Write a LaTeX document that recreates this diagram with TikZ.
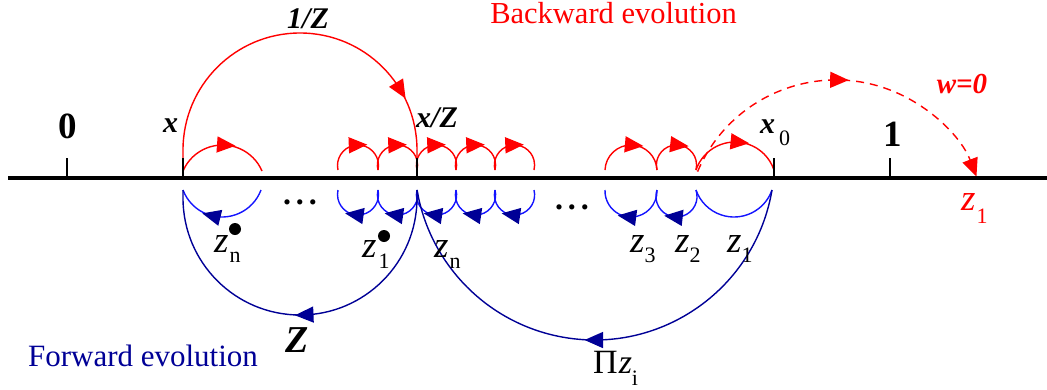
\documentclass[tikz,border=0pt]{standalone}
\usepackage{fontspec}
\setmainfont{Liberation Serif}
\usetikzlibrary{arrows.meta,decorations.markings}
\definecolor{navy}{RGB}{0,0,150}
\definecolor{lblue}{RGB}{20,20,255}
\definecolor{rred}{RGB}{255,0,0}
\newcommand\fsz[1]{\fontsize{#1}{#1}\selectfont}
\newcommand\zsub[4]{{\fsz{37}\itshape #1}\hspace{#4pt}\raisebox{-#3pt}{\fsz{22}#2}}
\tikzset{
  tipR/.style={postaction={decorate,decoration={markings,mark=at position #1 with {\fill[rred] (10pt,0pt) -- (-8.5pt,8.2pt) -- (-8.5pt,-8.2pt) -- cycle;}}}},
  tipB/.style={postaction={decorate,decoration={markings,mark=at position #1 with {\fill[navy] (10pt,0pt) -- (-8.5pt,8.2pt) -- (-8.5pt,-8.2pt) -- cycle;}}}},
  redline/.style={draw=rred, line width=1.4pt},
  blueline/.style={draw=lblue, line width=1.4pt},
  navyline/.style={draw=navy, line width=1.4pt},
  tick/.style={draw=black, line width=1.3pt},
  lbl/.style={inner sep=0pt, anchor=base},
  lblw/.style={inner sep=0pt, anchor=base west},
  bdot/.style={circle, fill=black, inner sep=0pt, minimum size=12pt},
}
% upper arc, left to right: x1, x2, Y, h, options
\newcommand\uarc[5]{%
  \pgfmathsetmacro\myc{(#2-#1)/2}%
  \pgfmathsetmacro\myr{(\myc*\myc+#4*#4)/(2*#4)}%
  \pgfmathsetmacro\mya{atan2(\myr-#4,\myc)}%
  \draw[#5] (#1,#3) arc[start angle={180-\mya}, end angle={\mya}, radius=\myr pt];}
% lower arc, right to left: x1, x2, Y, h, options
\newcommand\larc[5]{%
  \pgfmathsetmacro\myc{(#2-#1)/2}%
  \pgfmathsetmacro\myr{(\myc*\myc+#4*#4)/(2*#4)}%
  \pgfmathsetmacro\mya{atan2(\myr-#4,\myc)}%
  \draw[#5] (#2,#3) arc[start angle={-\mya}, end angle={-180+\mya}, radius=\myr pt];}
\begin{document}
\begin{tikzpicture}[x=1pt,y=1pt]
\useasboundingbox (0,-211) rectangle (1047,178);
% named points on the axis
\coordinate (p0) at (67,0);
\coordinate (px) at (183,0);
\coordinate (pxz) at (417,0);
\coordinate (px0) at (774,0);
\coordinate (p1) at (890,0);
% big red arc 1/Z
\draw[redline, tipR=0.785] (px) -- ++(0,28) arc[start angle=180, end angle=0, radius=117pt] -- (pxz);
% small red arcs
\uarc{183}{262}{7}{26}{redline, tipR=0.53}
\foreach \a/\b in {338/378,378/417,417/456,456/495,495/534}{\uarc{\a}{\b}{8}{25}{redline, tipR=0.49}}
\uarc{605}{657}{8}{25}{redline, tipR=0.53}
\uarc{657}{696}{8}{25}{redline, tipR=0.53}
\uarc{696}{774}{8}{28}{redline, tipR=0.54}
% dashed red arc w=0
\draw[redline, dash pattern=on 8pt off 6pt, tipR=0.5, -{Triangle[length=18pt,width=16pt]}]
  (697.6,6.4) arc[start angle=157, end angle=21, radius=150.4pt];
% small blue arcs
\larc{183}{261}{-12}{27}{blueline, tipB=0.60}
\foreach \a/\b in {338/378,378/417,417/456,456/495,495/534}{\larc{\a}{\b}{-12}{25}{blueline, tipB=0.54}}
\larc{605}{657}{-12}{27}{blueline, tipB=0.54}
\larc{657}{696}{-12}{27}{blueline, tipB=0.53}
\larc{696}{772}{-12}{27}{blueline}
% big blue arcs
\draw[navyline, tipB=0.487] (417,-12) -- (417,-20) arc[start angle=0, end angle=-180, radius=117pt] -- (183,-12);
\draw[navyline, tipB=0.5] (772,-12) arc[start angle=-9.6, end angle=-170.4, radius=180pt];
% axis and ticks
\draw[line width=3.2pt] (8,0) -- (1047,0);
\foreach \p in {p0,px,pxz,px0,p1}{\draw[tick] (\p) -- ++(0,20);}
% labels
\node[lbl, text=rred] (tb) at (613.5,155) {\fsz{30.5}Backward evolution};
\node[lbl, text=navy] (tf) at (143,-188) {\fsz{31}Forward evolution};
\node[lbl] (l0) at (68,40) {\fsz{37}\bfseries 0};
\node[lbl] (l1) at (893,32) {\fsz{37}\bfseries 1};
\node[lbl] (lx) at (170.5,46) {\fsz{30}\bfseries\itshape x};
\node[lbl] (linv) at (308,150) {\fsz{30}\bfseries\itshape 1/Z};
\node[lbl] (lxz) at (437,51) {\fsz{30}\bfseries\itshape x/Z};
\node[lblw] (lx0) at (760,45) {{\fsz{30}\bfseries\itshape x}\hspace{4pt}\raisebox{-12pt}{\fsz{22}0}};
\node[lbl, text=rred] (lw) at (962,85) {\fsz{29}\bfseries\itshape w=0};
\node[lblw, text=rred] (lz1r) at (961,-32) {\zsub{z}{1}{13}{1}};
\node[lblw] (lzna) at (214,-74) {\zsub{z}{n}{10}{1}};
\node[lblw] (lz1a) at (362,-79) {\zsub{z}{1}{11}{2}};
\node[lblw] (lznb) at (434,-79) {\zsub{z}{n}{11}{1}};
\node[lblw] (lz3) at (630,-74) {\zsub{z}{3}{10}{0}};
\node[lblw] (lz2) at (675,-74) {\zsub{z}{2}{10}{0}};
\node[lblw] (lz1) at (727,-74) {\zsub{z}{1}{10}{0}};
\node[lblw] (lprod) at (593,-195) {{\fsz{34}Π}\hspace{1pt}{\fsz{34}\itshape z}\raisebox{-12pt}{\fsz{22}i}};
\node[lbl] (lZ) at (297.5,-174) {\fsz{38}\bfseries\itshape Z};
\node[lbl] (dotsa) at (300,-26) {\fsz{32}\bfseries .\hspace{5pt}.\hspace{5pt}.};
\node[lbl] (dotsb) at (572,-31) {\fsz{32}\bfseries .\hspace{5pt}.\hspace{5pt}.};
\node[bdot] (dn) at (235,-51) {};
\node[bdot] (d1) at (384,-58) {};
\end{tikzpicture}
\end{document}
